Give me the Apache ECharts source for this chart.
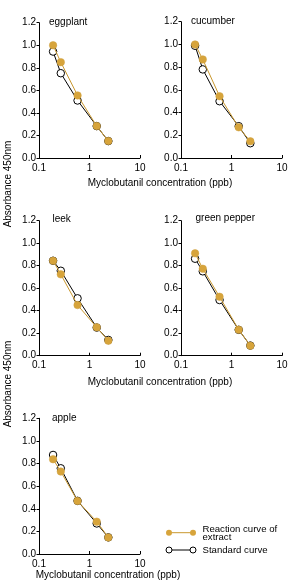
<!DOCTYPE html>
<html><head><meta charset="utf-8">
<script src="https://cdn.jsdelivr.net/npm/echarts@6/dist/echarts.min.js"></script>
<style>html,body{margin:0;padding:0;background:#fff}#c{width:300px;height:587px}</style>
</head><body><div id="c"></div>
<script>
const panelNames = ['eggplant', 'cucumber', 'leek', 'green pepper', 'apple'];
const concentration = [0.19, 0.27, 0.58, 1.39, 2.36];
const extractEggplant = [1.00, 0.85, 0.555, 0.283, 0.15];
const standardEggplant = [0.944, 0.752, 0.51, 0.283, 0.15];
const extractCucumber = [1.00, 0.868, 0.544, 0.27, 0.147];
const standardCucumber = [0.988, 0.78, 0.50, 0.28, 0.13];
const extractLeek = [0.844, 0.723, 0.45, 0.252, 0.133];
const standardLeek = [0.844, 0.755, 0.51, 0.25, 0.14];
const extractPepper = [0.91, 0.773, 0.524, 0.231, 0.089];
const standardPepper = [0.862, 0.75, 0.495, 0.23, 0.09];
const extractApple = [0.838, 0.729, 0.469, 0.286, 0.147];
const standardApple = [0.876, 0.758, 0.47, 0.27, 0.147];
const yTicks = ['0.0', '0.2', '0.4', '0.6', '0.8', '1.0', '1.2'];
const xTicks = {0.1: '0.1', 1: '1', 10: '10'};

const extractAll = [extractEggplant, extractCucumber, extractLeek, extractPepper, extractApple];
const standardAll = [standardEggplant, standardCucumber, standardLeek, standardPepper, standardApple];

const FONT = 'Liberation Sans, Arial, sans-serif';
const ORANGE = '#d7a43b';
const ORANGE_LINE = '#c9982f';

const grids = [
  {left: 39, top: 22.7, width: 101, height: 135.3},
  {left: 181, top: 21.7, width: 101, height: 136.3},
  {left: 39, top: 220.7, width: 101, height: 135},
  {left: 181, top: 220.7, width: 101, height: 135},
  {left: 39, top: 418.3, width: 101, height: 135.7}
];
const titlePos = [[49, 22.5], [191, 21.5], [52.5, 219], [195.5, 218], [52, 418]];

const xAxes = grids.map((g, i) => ({
  type: 'log', logBase: 10, min: 0.1, max: 10, gridIndex: i,
  axisLine: {lineStyle: {color: '#000', width: 1}},
  axisTick: {inside: true, length: 3, lineStyle: {color: '#000'}},
  minorTick: {show: false},
  splitLine: {show: false},
  axisLabel: {color: '#000', fontSize: 10, fontFamily: FONT, margin: 5,
    formatter: v => xTicks[Math.round(v * 10) / 10] !== undefined ? xTicks[Math.round(v * 10) / 10] : (v >= 1 ? String(Math.round(v)) : String(v))}
}));
const yAxes = grids.map((g, i) => ({
  type: 'value', min: 0, max: 1.2, interval: 0.2, gridIndex: i,
  axisLine: {show: true, lineStyle: {color: '#000', width: 1}},
  axisTick: {show: true, length: 2.5, lineStyle: {color: '#000'}},
  splitLine: {show: false},
  axisLabel: {color: '#000', fontSize: 10, fontFamily: FONT, margin: 3,
    formatter: v => yTicks[Math.round(v / 0.2)]}
}));

const series = [];
for (let i = 0; i < 5; i++) {
  series.push({
    type: 'line', xAxisIndex: i, yAxisIndex: i, z: 2,
    data: concentration.map((x, k) => [x, standardAll[i][k]]),
    symbol: 'circle', symbolSize: 7.5,
    lineStyle: {color: '#000', width: 1},
    itemStyle: {color: '#fff', borderColor: '#000', borderWidth: 1},
    animation: false
  });
  series.push({
    type: 'line', xAxisIndex: i, yAxisIndex: i, z: 3,
    data: concentration.map((x, k) => [x, extractAll[i][k]]),
    symbol: 'circle', symbolSize: 7.5,
    lineStyle: {color: ORANGE_LINE, width: 1},
    itemStyle: {color: ORANGE, borderColor: '#cfa040', borderWidth: 0.5},
    animation: false
  });
}

const txt = (x, y, s, extra) => Object.assign({type: 'text', x: x, y: y,
  style: Object.assign({text: s, fill: '#000', font: '10px ' + FONT, textVerticalAlign: 'middle'}, extra || {})});

const graphic = [];
panelNames.forEach((n, i) => graphic.push(txt(titlePos[i][0], titlePos[i][1], n)));
graphic.push(txt(160, 183.5, 'Myclobutanil concentration (ppb)', {textAlign: 'center'}));
graphic.push(txt(160, 382, 'Myclobutanil concentration (ppb)', {textAlign: 'center'}));
graphic.push(txt(108, 575.5, 'Myclobutanil concentration (ppb)', {textAlign: 'center'}));
graphic.push({type: 'text', x: 8, y: 184, rotation: Math.PI / 2,
  style: {text: 'Absorbance 450nm', fill: '#000', font: '10px ' + FONT, textAlign: 'center', textVerticalAlign: 'middle'}});
graphic.push({type: 'text', x: 8, y: 384, rotation: Math.PI / 2,
  style: {text: 'Absorbance 450nm', fill: '#000', font: '10px ' + FONT, textAlign: 'center', textVerticalAlign: 'middle'}});
// legend
graphic.push({type: 'line', shape: {x1: 169, y1: 532.7, x2: 193, y2: 532.7}, style: {stroke: ORANGE_LINE, lineWidth: 1}});
graphic.push({type: 'circle', shape: {cx: 169, cy: 532.7, r: 3}, style: {fill: ORANGE}});
graphic.push({type: 'circle', shape: {cx: 193, cy: 532.7, r: 3}, style: {fill: ORANGE}});
graphic.push({type: 'line', shape: {x1: 169, y1: 550, x2: 193, y2: 550}, style: {stroke: '#000', lineWidth: 1}});
graphic.push({type: 'circle', shape: {cx: 169, cy: 550, r: 3}, style: {fill: '#fff', stroke: '#000', lineWidth: 1}});
graphic.push({type: 'circle', shape: {cx: 193, cy: 550, r: 3}, style: {fill: '#fff', stroke: '#000', lineWidth: 1}});
graphic.push(txt(202.5, 529, 'Reaction curve of', {font: '9.6px ' + FONT}));
graphic.push(txt(202.5, 537, 'extract', {font: '9.6px ' + FONT}));
graphic.push(txt(202.5, 550.5, 'Standard curve', {font: '9.6px ' + FONT}));

const chart = echarts.init(document.getElementById('c'), null, {renderer: 'canvas'});
chart.setOption({
  backgroundColor: '#fff',
  animation: false,
  grid: grids,
  xAxis: xAxes,
  yAxis: yAxes,
  series: series,
  graphic: graphic
});
</script></body></html>
